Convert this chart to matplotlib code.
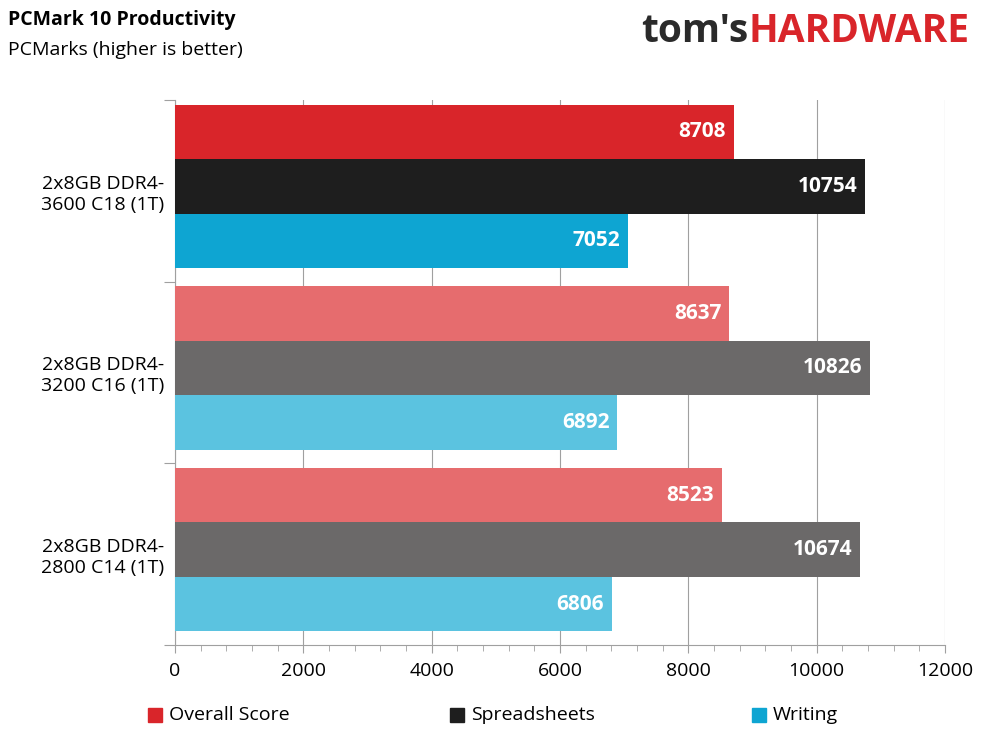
import matplotlib
matplotlib.use("Agg")
import matplotlib.pyplot as plt
from matplotlib.ticker import MultipleLocator

plt.rcParams['font.family'] = ['Open Sans', 'DejaVu Sans']

configs = ["2x8GB DDR4-\n3600 C18 (1T)", "2x8GB DDR4-\n3200 C16 (1T)", "2x8GB DDR4-\n2800 C14 (1T)"]
series = ["Overall Score", "Spreadsheets", "Writing"]
overall = [8708, 8637, 8523]
spreadsheets = [10754, 10826, 10674]
writing = [7052, 6892, 6806]

strong = ["#D9252A", "#1E1E1E", "#0EA5D2"]
light = ["#E66C6E", "#6B6969", "#5BC3E0"]

fig = plt.figure(figsize=(9.89, 7.41), dpi=100)
ax = fig.add_axes([175/989, 1-645/741, 770/989, 545/741])

bh = 0.3
values = [overall, spreadsheets, writing]
for g in range(3):
    for s in range(3):
        y = g + 0.175 + s*bh
        col = strong[s] if g == 0 else light[s]
        v = values[s][g]
        ax.barh(y, v, height=bh, color=col, zorder=3)
        ax.text(v - 120, y, str(v), ha='right', va='center', color='white',
                fontsize=15, fontweight='bold', zorder=4)

ax.set_ylim(3, 0)
ax.set_xlim(0, 12000)
ax.xaxis.set_major_locator(MultipleLocator(2000))
ax.xaxis.set_minor_locator(MultipleLocator(400))
ax.grid(axis='x', color='#A0A0A0', lw=0.8, zorder=0)
ax.set_yticks([0, 1, 2, 3])
ax.set_yticklabels([])
ax.set_yticks([0.5, 1.5, 2.5], minor=True)
ax.set_yticklabels(configs, minor=True, fontsize=14)
ax.tick_params(axis='y', which='minor', length=0, pad=8)
ax.tick_params(axis='y', which='major', length=8, color='#A0A0A0')
ax.tick_params(axis='x', which='major', length=6, labelsize=14, color='#A0A0A0', pad=6)
ax.tick_params(axis='x', which='minor', length=4, color='#A0A0A0')
for sp in ['top', 'right']:
    ax.spines[sp].set_visible(False)
ax.spines['left'].set_color('#A0A0A0')
ax.spines['bottom'].set_color('#A0A0A0')

fig.text(8/989, 1-20/741, "PCMark 10 Productivity", fontsize=14, fontweight='bold', va='center')
fig.text(8/989, 1-50/741, "PCMarks (higher is better)", fontsize=14, va='center')
fig.text(748/989, 1-32/741, "tom's", fontsize=28, fontweight='bold', color='#2A2A2A',
         va='center', ha='right')
fig.text(749/989, 1-32/741, "HARDWARE", fontsize=28, fontweight='bold', color='#D9252A',
         va='center', ha='left')

lx = [148, 450, 752]
for i, name in enumerate(series):
    fig.patches.append(plt.Rectangle((lx[i]/989, 1-722/741), 14/989, 14/741,
                                     transform=fig.transFigure, color=strong[i]))
    fig.text((lx[i]+21)/989, 1-715/741, name, fontsize=14, va='center')

fig.savefig("out.png", dpi=100)
